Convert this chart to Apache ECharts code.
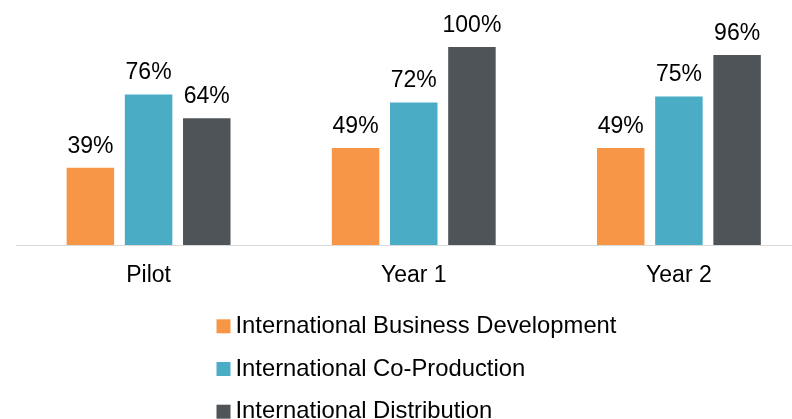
<!DOCTYPE html>
<html>
<head>
<meta charset="utf-8">
<style>
  html, body { margin: 0; padding: 0; background: #ffffff; }
  #chart { width: 792px; height: 419px; }
</style>
<script src="https://cdn.jsdelivr.net/npm/echarts@6/dist/echarts.min.js"></script>
</head>
<body>
<div id="chart"></div>
<script>
// Program periods along the x axis
const categories = ['Pilot', 'Year 1', 'Year 2'];

// Share of participants (%) for each program track
const businessDevelopment = [39, 49, 49];
const coProduction = [76, 72, 75];
const distribution = [64, 100, 96];

const seriesNames = [
  'International Business Development',
  'International Co-Production',
  'International Distribution'
];

const colors = ['#F79646', '#4BACC6', '#4F5459'];
const fontFamily = '"Liberation Sans", Arial, sans-serif';

const chart = echarts.init(document.getElementById('chart'), null, { renderer: 'canvas' });

function barSeries(name, data, color) {
  return {
    name: name,
    type: 'bar',
    data: data,
    barWidth: 47.5,
    barGap: '22.5%',
    itemStyle: { color: color },
    label: {
      show: true,
      position: 'top',
      distance: 10,
      formatter: '{c}%',
      color: '#000000',
      fontSize: 23,
      fontFamily: fontFamily
    }
  };
}

chart.setOption({
  animation: false,
  backgroundColor: '#ffffff',
  color: colors,
  // plot area runs past the right edge of the canvas
  grid: {
    left: 16,
    width: 795.5,
    top: 47,
    height: 198,
    containLabel: false,
    outerBoundsMode: 'none'
  },
  xAxis: {
    type: 'category',
    data: categories,
    axisLine: { show: true, lineStyle: { color: '#D9D9D9', width: 1 } },
    axisTick: { show: false },
    axisLabel: { color: '#000000', fontSize: 23, fontFamily: fontFamily, margin: 19 }
  },
  yAxis: {
    type: 'value',
    min: 0,
    max: 100,
    show: false,
    splitLine: { show: false }
  },
  legend: {
    orient: 'vertical',
    left: 216.5,
    top: 314.3,
    height: 300,
    padding: 0,
    itemWidth: 14,
    itemHeight: 14,
    itemGap: 18.7,
    icon: 'rect',
    textStyle: { color: '#000000', fontSize: 23.8, fontFamily: fontFamily, padding: [0, 0, 0, 0] },
    data: seriesNames
  },
  series: [
    barSeries(seriesNames[0], businessDevelopment, colors[0]),
    barSeries(seriesNames[1], coProduction, colors[1]),
    barSeries(seriesNames[2], distribution, colors[2])
  ]
});
</script>
</body>
</html>
